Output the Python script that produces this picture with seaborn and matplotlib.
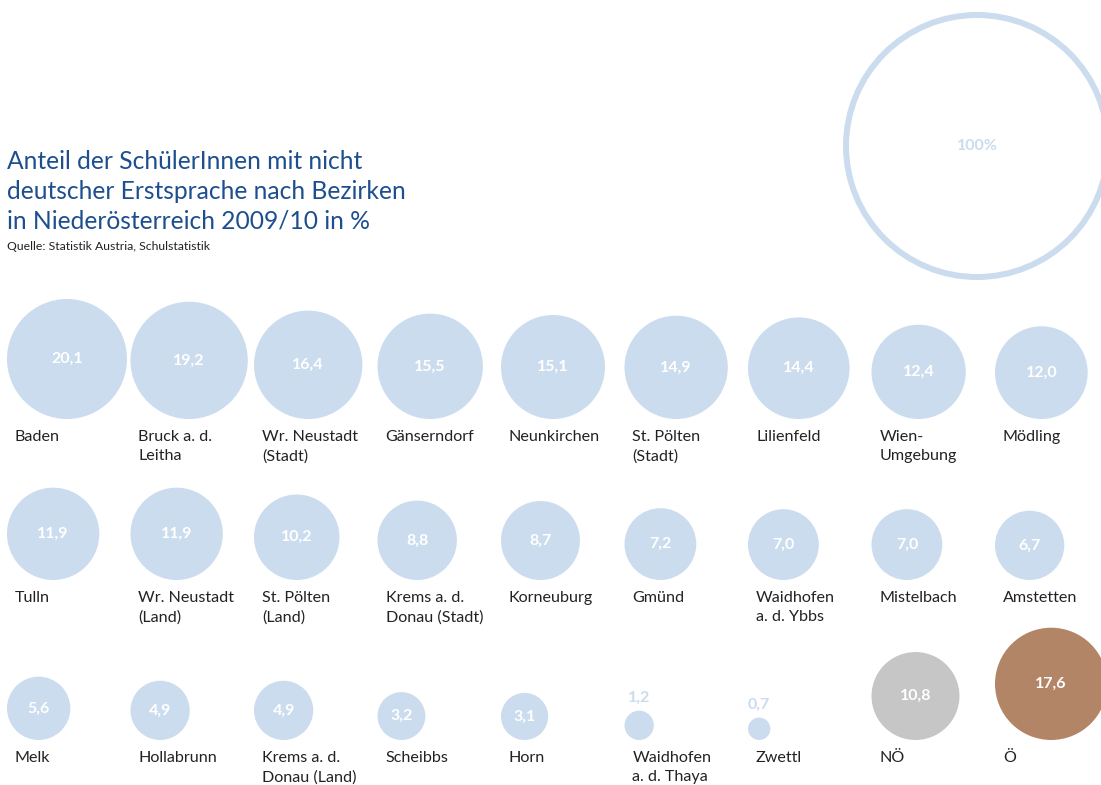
import numpy as np
import pandas as pd
import seaborn as sns
import matplotlib.pyplot as plt

# データ
bezirke = ["Baden", "Bruck a. d.\nLeitha", "Wr. Neustadt\n(Stadt)", "Gänserndorf", "Neunkirchen",
           "St. Pölten\n(Stadt)", "Lilienfeld", "Wien-\nUmgebung", "Mödling",
           "Tulln", "Wr. Neustadt\n(Land)", "St. Pölten\n(Land)", "Krems a. d.\nDonau (Stadt)", "Korneuburg",
           "Gmünd", "Waidhofen\na. d. Ybbs", "Mistelbach", "Amstetten",
           "Melk", "Hollabrunn", "Krems a. d.\nDonau (Land)", "Scheibbs", "Horn",
           "Waidhofen\na. d. Thaya", "Zwettl", "NÖ", "Ö"]
werte = [20.1, 19.2, 16.4, 15.5, 15.1, 14.9, 14.4, 12.4, 12.0,
         11.9, 11.9, 10.2, 8.8, 8.7, 7.2, 7.0, 7.0, 6.7,
         5.6, 4.9, 4.9, 3.2, 3.1, 1.2, 0.7, 10.8, 17.6]
gruppe = ["Bezirk"] * 25 + ["NÖ", "Ö"]

farben = {"Bezirk": "#cbdcee", "NÖ": "#c6c6c6", "Ö": "#b38567"}

# レイアウト (ピクセル座標)
W, H = 1101, 785
ncol = 9
x0, dx = 7, 123.5
basis = [419, 580, 740]
k = 60 / np.sqrt(20.1)  # 半径 = k * sqrt(値)

df = pd.DataFrame({"name": bezirke, "wert": werte, "gruppe": gruppe})
df["spalte"] = np.arange(len(df)) % ncol
df["zeile"] = np.arange(len(df)) // ncol
df["r"] = k * np.sqrt(df["wert"])
df["x"] = x0 + df["spalte"] * dx + df["r"]
df["y"] = np.array(basis)[df["zeile"]] - df["r"]

fig = plt.figure(figsize=(W / 100, H / 100), dpi=100)
ax = fig.add_axes([0, 0, 1, 1])
ax.set_xlim(0, W)
ax.set_ylim(H, 0)
ax.axis("off")

pt = 0.72  # 1px = 0.72pt
s100 = (2 * k * 10 * pt) ** 2
sns.scatterplot(data=df, x="x", y="y", size="wert", sizes=(0, s100), size_norm=(0, 100),
                hue="gruppe", palette=farben, linewidth=0, legend=False, ax=ax)
ax.set_xlim(0, W)
ax.set_ylim(H, 0)

plt.rcParams['font.family'] = ['Lato', 'DejaVu Sans']

for _, row in df.iterrows():
    lx = x0 + row["spalte"] * dx + 8
    ly = basis[row["zeile"]] + 11
    ax.text(lx, ly, row["name"], fontsize=11.6, color="#222222", va="top", ha="left",
            linespacing=1.45)
    label = f"{row['wert']:.1f}".replace(".", ",")
    if row["r"] < 20:
        ax.text(row["x"], row["y"] - row["r"] - 13, label, fontsize=11.5, fontweight="bold",
                color="#cbdcee", ha="center", va="center")
    else:
        ax.text(row["x"], row["y"], label, fontsize=11.5, fontweight="bold",
                color="white", ha="center", va="center")

# 100%の参照円
r_ring = 131
ax.scatter([977], [146], s=(2 * r_ring * pt) ** 2, facecolors="none",
           edgecolors="#cbdcee", linewidths=6 * pt)
ax.text(977, 146, "100%", fontsize=11.5, fontweight="bold", color="#cbdcee",
        ha="center", va="center")

# タイトル
ax.text(7, 150, "Anteil der SchülerInnen mit nicht\ndeutscher Erstsprache nach Bezirken\nin Niederösterreich 2009/10 in %",
        fontsize=17.7, color="#1d4f8f", ha="left", va="top", linespacing=1.36)
ax.text(7, 246, "Quelle: Statistik Austria, Schulstatistik", fontsize=8.8, color="#222222",
        ha="left", va="center")

fig.savefig("out.png", dpi=100)
